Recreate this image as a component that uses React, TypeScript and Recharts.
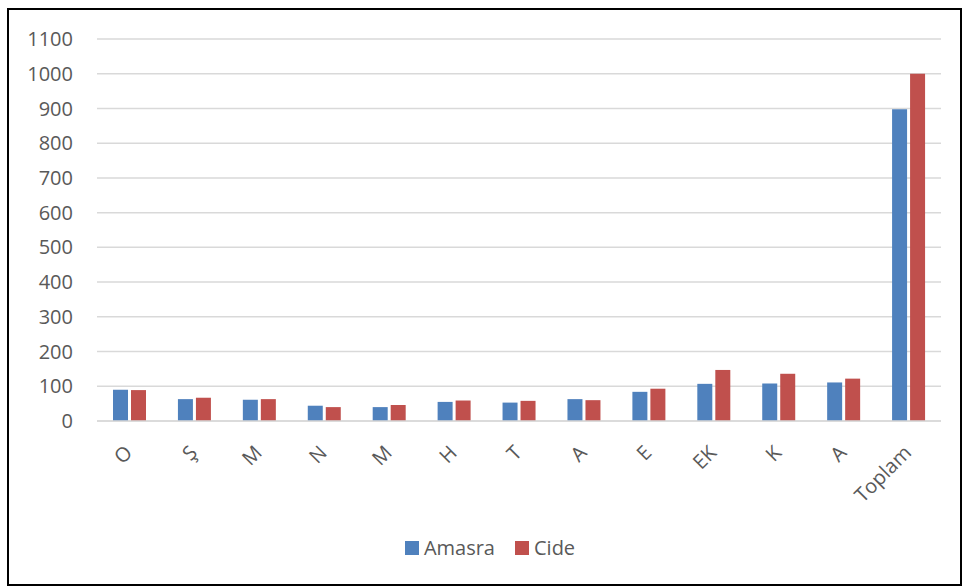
import React from "react";
import { BarChart, Bar, XAxis, YAxis, CartesianGrid, Legend } from "recharts";

const categories = ["O", "Ş", "M", "N", "M", "H", "T", "A", "E", "EK", "K", "A", "Toplam"];
const amasra = [90, 63, 61, 44, 40, 55, 53, 63, 84, 107, 108, 111, 898];
const cide = [89, 67, 63, 40, 46, 59, 58, 60, 93, 147, 136, 122, 1000];
const yTicks = [0, 100, 200, 300, 400, 500, 600, 700, 800, 900, 1000, 1100];

const BLUE = "#4F81BD";
const RED = "#C0504D";
const TEXT = "#595959";
const FONT = "'Open Sans', Lato, sans-serif";

const data = categories.map((name, i) => ({
  name,
  Amasra: amasra[i],
  Cide: cide[i],
}));

const AngledTick = ({ x, y, payload }: any) => (
  <g transform={`translate(${x + 4},${y + 25})`}>
    <text
      x={0}
      y={0}
      textAnchor="end"
      transform="rotate(-45)"
      fill={TEXT}
      fontSize={20}
      fontFamily={FONT}
    >
      {payload.value}
    </text>
  </g>
);

const LegendContent = ({ payload }: any) => (
  <div
    style={{
      display: "flex",
      justifyContent: "center",
      alignItems: "center",
      gap: 20,
      fontFamily: FONT,
      fontSize: 20,
      color: TEXT,
    }}
  >
    {(payload || []).map((entry: any) => (
      <div key={entry.value} style={{ display: "flex", alignItems: "center" }}>
        <span
          style={{
            display: "inline-block",
            width: 14,
            height: 14,
            background: entry.color,
            marginRight: 5,
          }}
        />
        <span>{entry.value}</span>
      </div>
    ))}
  </div>
);

export default function App() {
  return (
    <div style={{ position: "absolute", left: 0, top: 0, width: 963, height: 586 }}>
      <div
        style={{
          position: "absolute",
          left: 7,
          top: 8,
          width: 955,
          height: 578,
          border: "2px solid #000",
          boxSizing: "border-box",
        }}
      />
      <BarChart
        width={963}
        height={586}
        data={data}
        margin={{ top: 39, right: 22, left: 0, bottom: 65 }}
        barSize={15}
        barGap={3}
      >
        <CartesianGrid stroke="#D9D9D9" strokeWidth={1.5} vertical={false} />
        <XAxis
          dataKey="name"
          height={100}
          interval={0}
          axisLine={{ stroke: "#D9D9D9", strokeWidth: 1.5 }}
          tickLine={false}
          tick={<AngledTick />}
        />
        <YAxis
          width={97}
          domain={[0, 1100]}
          ticks={yTicks}
          interval={0}
          axisLine={false}
          tickLine={false}
          tickSize={6}
          tickMargin={18}
          tick={{ fill: TEXT, fontSize: 20, fontFamily: FONT }}
        />
        <Legend
          verticalAlign="middle"
          align="center"
          layout="horizontal"
          wrapperStyle={{ top: 534, left: 0, width: 980 }}
          content={<LegendContent />}
        />
        <Bar dataKey="Amasra" fill={BLUE} isAnimationActive={false} />
        <Bar dataKey="Cide" fill={RED} isAnimationActive={false} />
      </BarChart>
    </div>
  );
}
